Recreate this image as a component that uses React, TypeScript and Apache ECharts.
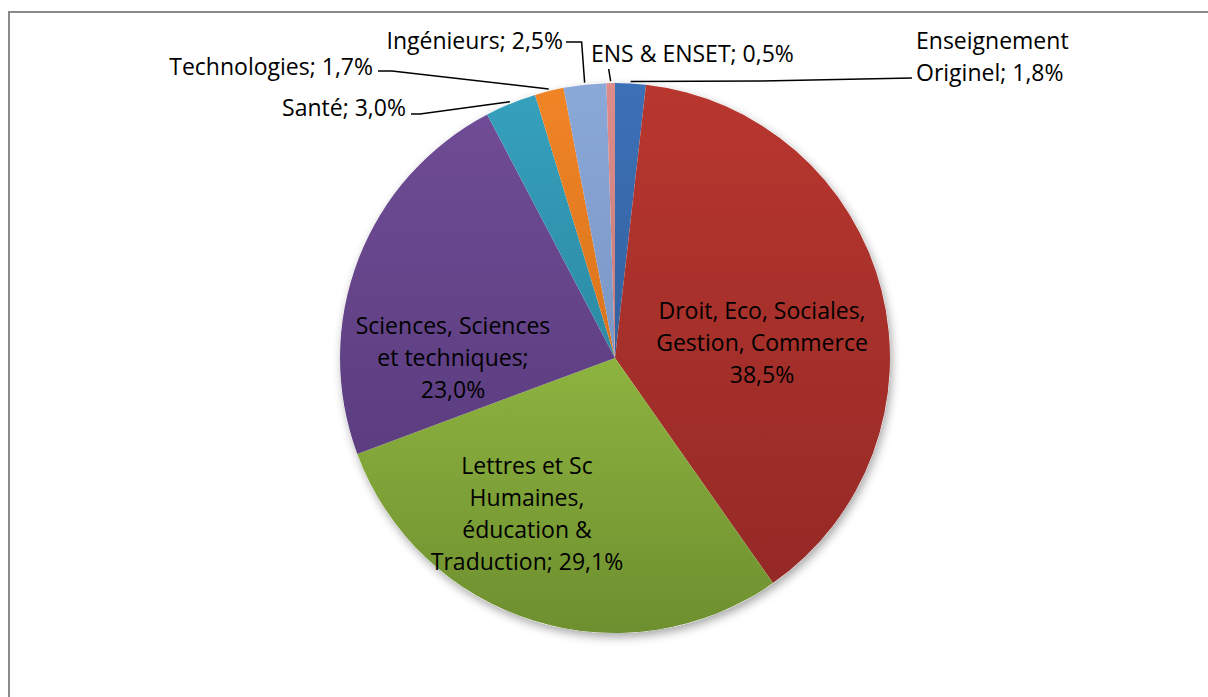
import React, { useEffect, useRef } from "react";
import * as echarts from "echarts";

const categories = [
  "Enseignement Originel",
  "Droit, Eco, Sociales, Gestion, Commerce",
  "Lettres et Sc Humaines, éducation & Traduction",
  "Sciences, Sciences et techniques",
  "Santé",
  "Technologies",
  "Ingénieurs",
  "ENS & ENSET",
];
const values = [1.8, 38.5, 29.1, 23.0, 3.0, 1.7, 2.5, 0.5];
const labelNames = [
  "Enseignement\nOriginel",
  "Droit, Eco, Sociales,\nGestion, Commerce",
  "Lettres et Sc\nHumaines,\néducation &\nTraduction",
  "Sciences, Sciences\net techniques",
  "Santé",
  "Technologies",
  "Ingénieurs",
  "ENS & ENSET",
];
const labelSeparators = [";", "\n", ";", ";\n", ";", ";", ";", ";"];
const colorsTop = ["#3c70b7", "#b8372f", "#8db33f", "#6f4c95", "#35a0bd", "#f08526", "#8aa8d8", "#dc8d8b"];
const colorsBottom = ["#33629f", "#952926", "#6e8f2f", "#5c3d80", "#2d8aa4", "#d9731c", "#7a97c6", "#c97c7a"];
const insideLabel = [false, true, true, true, false, false, false, false];

const CX = 615;
const CY = 358;
const R = 275;

// label placement (text anchors)
const labelPos: Record<number, any> = {
  0: { x: 916, y: 56, align: "left" },
  1: { x: 762, y: 342, align: "center" },
  2: { x: 527, y: 513, align: "center" },
  3: { x: 453, y: 357, align: "center" },
  4: { x: 406, y: 107, align: "right" },
  5: { x: 373, y: 66, align: "right" },
  6: { x: 563, y: 40, align: "right" },
  7: { x: 591, y: 53, align: "left" },
};

function fmt(v: number) {
  return v.toFixed(1).replace(".", ",") + "%";
}

export default function App() {
  const ref = useRef<HTMLDivElement>(null);
  useEffect(() => {
    if (!ref.current) return;
    const chart = echarts.init(ref.current, null, { renderer: "svg" });
    const total = values.reduce((a, b) => a + b, 0);
    const edgePoint = (i: number) => {
      let before = 0;
      for (let k = 0; k < i; k++) before += values[k];
      const frac = (before + values[i] / 2) / total;
      const a = frac * Math.PI * 2;
      return [CX + (R + 2) * Math.sin(a), CY - (R + 2) * Math.cos(a)];
    };
    const data = categories.map((name, i) => ({
      name,
      value: values[i],
      itemStyle: {
        color: new echarts.graphic.LinearGradient(0, 0, 0, 1, [
          { offset: 0, color: colorsTop[i] },
          { offset: 1, color: colorsBottom[i] },
        ]),
      },
      label: {
        position: insideLabel[i] ? "inside" : "outside",
        formatter: labelNames[i] + labelSeparators[i] + (labelSeparators[i] === ";" ? " " : "") + fmt(values[i]),
      },
      labelLine: { show: !insideLabel[i] },
    }));

    const option: any = {
      animation: false,
      backgroundColor: "#ffffff",
      graphic: [
        {
          type: "rect",
          shape: { x: 9, y: 12, width: 1400, height: 900 },
          style: { fill: "none", stroke: "#8a8a8a", lineWidth: 2 },
          silent: true,
          z: 0,
        },
      ],
      series: [
        {
          type: "pie",
          center: [CX, CY],
          radius: R,
          silent: true,
          z: 1,
          label: { show: false },
          labelLine: { show: false },
          data: [
            {
              value: 1,
              itemStyle: {
                color: "#ffffff",
                shadowBlur: 10,
                shadowColor: "rgba(0,0,0,0.35)",
                shadowOffsetX: 2,
                shadowOffsetY: 4,
              },
            },
          ],
        },
        {
          type: "pie",
          center: [CX, CY],
          radius: R,
          startAngle: 90,
          clockwise: true,
          z: 2,
          avoidLabelOverlap: false,
          itemStyle: { borderWidth: 0 },
          label: {
            show: true,
            color: "#000000",
            fontFamily: "Open Sans",
            fontSize: 23,
            lineHeight: 32,
          },
          labelLine: {
            show: true,
            lineStyle: { color: "#000000", width: 1.5 },
          },
          labelLayout: (params: any) => {
            const i = params.dataIndex;
            const p = labelPos[i];
            if (!p) return {};
            const out: any = { x: p.x, y: p.y, align: p.align, verticalAlign: "middle" };
            const p0 = edgePoint(i);
            if (i === 0) out.labelLinePoints = [p0, [760, 81], [912, 78]];
            if (i === 4) out.labelLinePoints = [p0, [420, 114], [411, 114]];
            if (i === 5) out.labelLinePoints = [p0, [392, 71], [378, 71]];
            if (i === 6) out.labelLinePoints = [p0, [p0[0] - 3, 42], [566, 42]];
            if (i === 7) out.labelLinePoints = [p0, [p0[0] - 2, 69], [p0[0] - 2, 69]];
            return out;
          },
          data,
        },
      ],
    };
    chart.setOption(option);
    return () => chart.dispose();
  }, []);
  return (
    <div
      ref={ref}
      style={{ position: "absolute", left: 0, top: 0, width: 1208, height: 697 }}
    />
  );
}
